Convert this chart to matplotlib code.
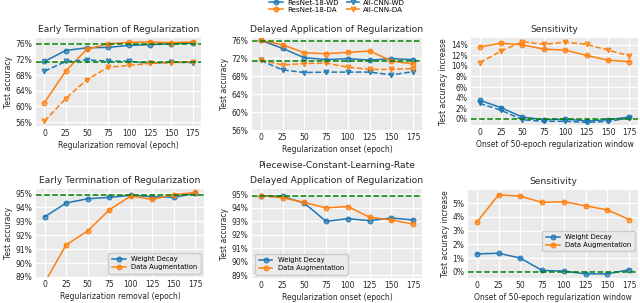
import matplotlib
matplotlib.use("Agg")
import matplotlib.pyplot as plt
from matplotlib.ticker import FuncFormatter
from matplotlib.colors import to_rgba

epochs = [0, 25, 50, 75, 100, 125, 150, 175]

# Top row: ResNet-18 / All-CNN
early_resnet_wd = [71.5, 74.3, 75.0, 75.1, 75.6, 75.8, 76.0, 76.2]
early_resnet_da = [61.0, 69.0, 74.6, 76.0, 76.4, 76.5, 76.3, 76.5]
early_allcnn_wd = [69.0, 71.5, 71.9, 71.6, 71.6, 71.0, 71.3, 71.2]
early_allcnn_da = [56.2, 62.0, 66.8, 70.0, 70.5, 71.0, 71.2, 71.4]

delay_resnet_wd = [76.0, 74.2, 72.1, 71.7, 71.9, 71.6, 71.9, 71.7]
delay_resnet_da = [76.0, 75.0, 73.2, 73.0, 73.3, 73.6, 71.4, 70.7]
delay_allcnn_wd = [71.5, 69.4, 68.8, 68.9, 68.9, 68.9, 68.3, 69.0]
delay_allcnn_da = [71.6, 70.5, 70.8, 70.9, 70.0, 69.5, 69.5, 69.7]

sens_resnet_wd = [3.5, 2.1, 0.3, -0.2, -0.1, -0.4, -0.2, 0.3]
sens_resnet_da = [13.6, 14.3, 14.0, 13.2, 13.0, 12.0, 11.1, 10.8]
sens_allcnn_wd = [2.9, 1.6, -0.2, -0.5, -0.5, -0.7, -0.5, 0.1]
sens_allcnn_da = [10.6, 12.8, 14.6, 14.1, 14.5, 14.1, 13.0, 11.9]

baseline_resnet = 76.0
baseline_allcnn = 71.3

# Bottom row: piecewise-constant learning rate
pc_early_wd = [93.3, 94.3, 94.6, 94.7, 94.85, 94.75, 94.7, 95.0]
pc_early_da = [88.6, 91.3, 92.3, 93.8, 94.8, 94.55, 94.9, 95.05]
pc_delay_wd = [94.9, 94.85, 94.35, 93.0, 93.2, 93.05, 93.25, 93.1]
pc_delay_da = [94.9, 94.75, 94.4, 94.0, 94.1, 93.3, 93.1, 92.8]
pc_sens_wd = [1.3, 1.35, 1.0, 0.1, 0.05, -0.15, -0.15, 0.15]
pc_sens_da = [3.6, 5.6, 5.5, 5.05, 5.1, 4.8, 4.5, 3.8]
pc_baseline = 94.9

BLUE = "#1f77b4"
ORANGE = "#ff7f0e"
GREEN = "green"
BG = "#EAEAEA"
FS = 5.5
TFS = 6.6
TXT = "#262626"

W, H = 640, 303
fig = plt.figure(figsize=(6.4, 3.03), dpi=100)

def add_ax(l, t, r, b):
    ax = fig.add_axes([l / W, 1 - b / H, (r - l) / W, (b - t) / H])
    ax.set_facecolor(BG)
    ax.grid(True, color="white", linewidth=0.9)
    ax.set_axisbelow(True)
    for s in ax.spines.values():
        s.set_visible(False)
    ax.tick_params(axis="both", length=0, labelsize=FS, pad=2.5, colors=TXT)
    ax.set_xticks(epochs)
    ax.set_xlim(-10, 185)
    return ax

pct = FuncFormatter(lambda v, p: f"{v:.0f}%")

def mk(c):
    return dict(markersize=3.4, linewidth=1.1, markerfacecolor=to_rgba(c, 0.6),
                markeredgecolor=c, markeredgewidth=0.8)

def four(ax, rwd, rda, awd, ada):
    ax.plot(epochs, rwd, "-o", color=BLUE, label="ResNet-18-WD", **mk(BLUE))
    ax.plot(epochs, rda, "-o", color=ORANGE, label="ResNet-18-DA", **mk(ORANGE))
    ax.plot(epochs, awd, "--v", color=BLUE, label="All-CNN-WD", **mk(BLUE))
    ax.plot(epochs, ada, "--v", color=ORANGE, label="All-CNN-DA", **mk(ORANGE))

def labels(ax, title, xl, yl, tpad=4):
    ax.set_title(title, fontsize=TFS, pad=tpad, color=TXT)
    ax.set_xlabel(xl, fontsize=FS, labelpad=1.5, color=TXT)
    ax.set_ylabel(yl, fontsize=FS, labelpad=2, color=TXT)

# Top left
ax1 = add_ax(36, 38, 201, 126)
four(ax1, early_resnet_wd, early_resnet_da, early_allcnn_wd, early_allcnn_da)
ax1.axhline(baseline_resnet, color=GREEN, ls="--", lw=1.1)
ax1.axhline(baseline_allcnn, color=GREEN, ls="--", lw=1.1)
ax1.set_ylim(55.0, 77.5)
ax1.set_yticks([56, 60, 64, 68, 72, 76])
ax1.yaxis.set_major_formatter(pct)
labels(ax1, "Early Termination of Regularization", "Regularization removal (epoch)", "Test accuracy")

# Top middle
ax2 = add_ax(252, 38, 422, 130)
four(ax2, delay_resnet_wd, delay_resnet_da, delay_allcnn_wd, delay_allcnn_da)
ax2.axhline(baseline_resnet - 0.1, color=GREEN, ls="--", lw=1.1)
ax2.axhline(baseline_allcnn + 0.1, color=GREEN, ls="--", lw=1.1)
ax2.set_ylim(56.0, 76.5)
ax2.set_yticks([56, 60, 64, 68, 72, 76])
ax2.yaxis.set_major_formatter(pct)
labels(ax2, "Delayed Application of Regularization", "Regularization onset (epoch)", "Test accuracy")

# Top right
ax3 = add_ax(471, 38, 638, 125)
four(ax3, sens_resnet_wd, sens_resnet_da, sens_allcnn_wd, sens_allcnn_da)
ax3.axhline(0, color=GREEN, ls="--", lw=1.1)
ax3.set_ylim(-1.2, 15.3)
ax3.set_yticks([0, 2, 4, 6, 8, 10, 12, 14])
ax3.yaxis.set_major_formatter(pct)
labels(ax3, "Sensitivity", "Onset of 50-epoch regularization window", "Test accuracy increase")

handles, labs = ax1.get_legend_handles_labels()
fig.legend(handles, labs, loc="upper center", bbox_to_anchor=(0.527, 1.022), ncol=2,
           frameon=False, fontsize=FS - 0.4, handlelength=2.0, columnspacing=1.0,
           labelspacing=0.15, handletextpad=0.5)

def two(ax, wd, da):
    ax.plot(epochs, wd, "-o", color=BLUE, label="Weight Decay", **mk(BLUE))
    ax.plot(epochs, da, "-o", color=ORANGE, label="Data Augmentation", **mk(ORANGE))

leg_kw = dict(fontsize=FS - 0.6, facecolor=BG, edgecolor="#cccccc", framealpha=1,
              handlelength=2.0, labelspacing=0.3, borderpad=0.5)

# Bottom left
ax4 = add_ax(36, 189, 204, 277)
two(ax4, pc_early_wd, pc_early_da)
ax4.axhline(pc_baseline, color=GREEN, ls="--", lw=1.1)
ax4.set_ylim(89.0, 95.3)
ax4.set_yticks([89, 90, 91, 92, 93, 94, 95])
ax4.yaxis.set_major_formatter(pct)
labels(ax4, "Early Termination of Regularization", "Regularization removal (epoch)", "Test accuracy")
ax4.legend(loc="lower right", **leg_kw)

# Bottom middle
ax5 = add_ax(252, 189, 422, 278)
two(ax5, pc_delay_wd, pc_delay_da)
ax5.axhline(pc_baseline, color=GREEN, ls="--", lw=1.1)
ax5.set_ylim(88.8, 95.4)
ax5.set_yticks([89, 90, 91, 92, 93, 94, 95])
ax5.yaxis.set_major_formatter(pct)
labels(ax5, "Delayed Application of Regularization", "Regularization onset (epoch)", "Test accuracy")
ax5.legend(loc="lower left", **leg_kw)
fig.text(0.5 * (252 + 422) / W, 1 - 165 / H, "Piecewise-Constant-Learning-Rate",
         fontsize=TFS, color=TXT, ha="center", va="center")

# Bottom right
ax6 = add_ax(468, 190, 638, 278)
two(ax6, pc_sens_wd, pc_sens_da)
ax6.axhline(0, color=GREEN, ls="--", lw=1.1)
ax6.set_ylim(-0.45, 5.95)
ax6.set_yticks([0, 1, 2, 3, 4, 5])
ax6.yaxis.set_major_formatter(pct)
labels(ax6, "Sensitivity", "Onset of 50-epoch regularization window", "Test accuracy increase")
ax6.legend(loc="center right", bbox_to_anchor=(1.0, 0.42), **leg_kw)

fig.savefig("out.png", dpi=100)
